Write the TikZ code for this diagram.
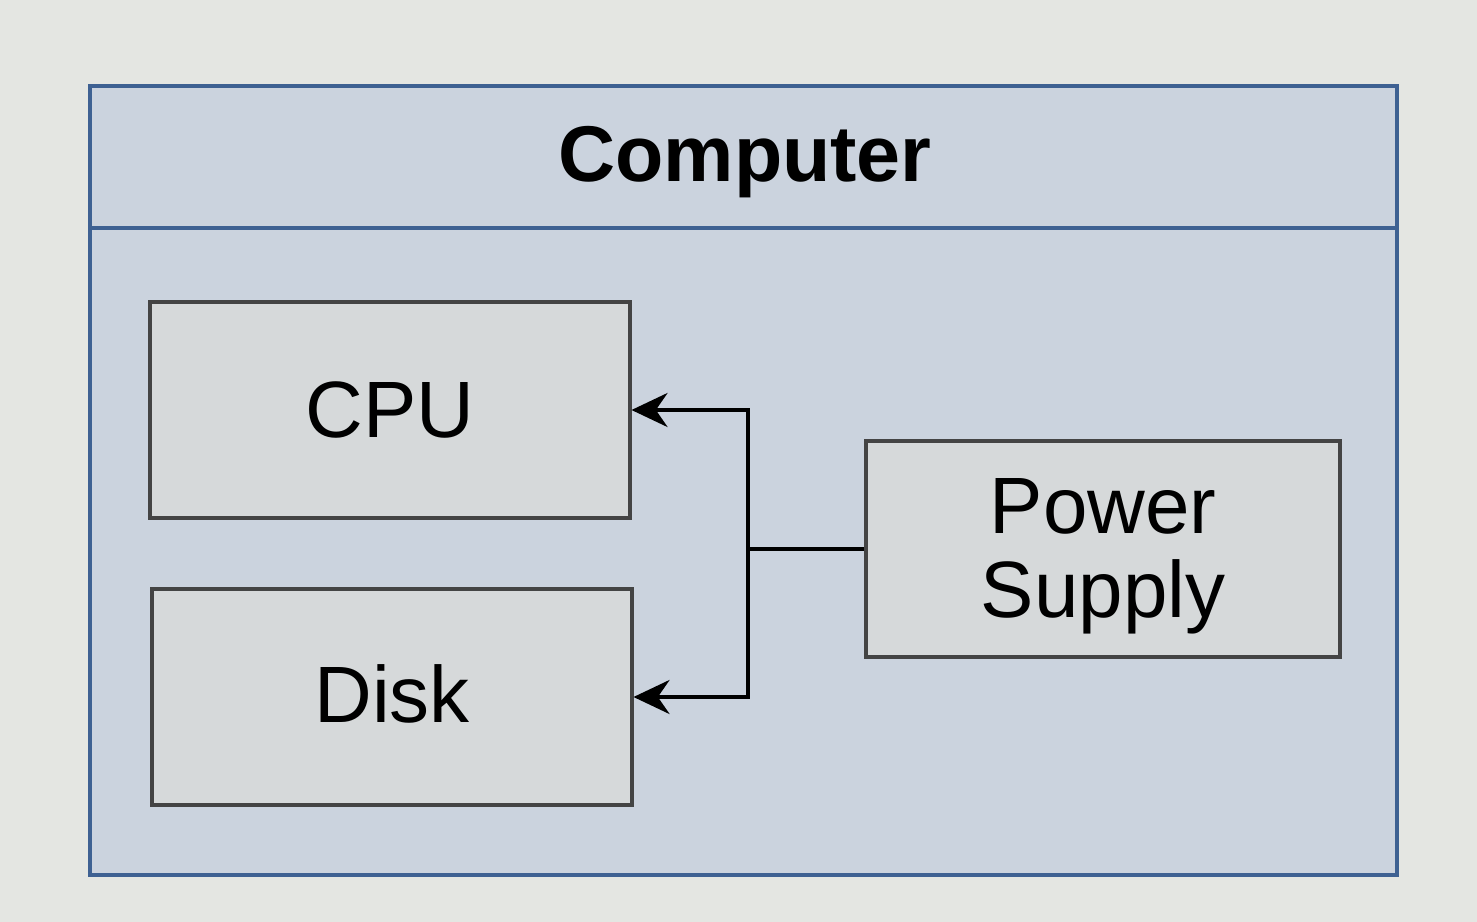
\documentclass[tikz,border=0pt]{standalone}
\usepackage{fontspec}
\setmainfont{Liberation Sans}
\usetikzlibrary{arrows.meta,positioning}
\definecolor{bgc}{HTML}{E4E6E2}
\definecolor{pool}{HTML}{CBD3DE}
\definecolor{poolline}{HTML}{3E6192}
\definecolor{boxfill}{HTML}{D6D9DA}
\definecolor{boxline}{HTML}{444444}
\tikzset{
  px/.style={x=0.02cm,y=-0.02cm},
  compbox/.style={draw=boxline, line width=1.8pt, fill=boxfill, inner sep=0pt,
    minimum width=9.6cm, minimum height=4.32cm, font=\fontsize{45.5}{48}\selectfont, align=center},
  conn/.style={draw=black, line width=2.1pt},
  arr/.style={conn, -{Stealth[length=0.72cm,width=0.68cm]}},
}
\begin{document}
\begin{tikzpicture}[px]
\useasboundingbox[fill=bgc] (0,0) rectangle (1477,922);
% container
\draw[draw=poolline, line width=2.1pt, fill=pool] (90,86) rectangle (1397,875);
\draw[draw=poolline, line width=2.1pt] (90,228) -- (1397,228);
\node[font=\fontsize{45}{49}\selectfont\bfseries] (title) at (745,162) {Computer};
% boxes
\node[compbox] (cpu) at (390,410) {\raisebox{-15.5pt}[0pt][0pt]{CPU}};
\node[compbox] (disk) at (392,697) {\raisebox{-14.5pt}[0pt][0pt]{Disk}};
\node[compbox, minimum width=9.48cm] (psu) at (1103,549) {\raisebox{9pt}[0pt][0pt]{\begin{tabular}[t]{@{}c@{}}Power\\Supply\end{tabular}}};
% connectors
\coordinate (j) at (748,549);
\draw[conn] (psu.west) -- (j);
\draw[arr] (j) |- (cpu.east);
\draw[arr] (j) |- (disk.east);
\end{tikzpicture}
\end{document}
